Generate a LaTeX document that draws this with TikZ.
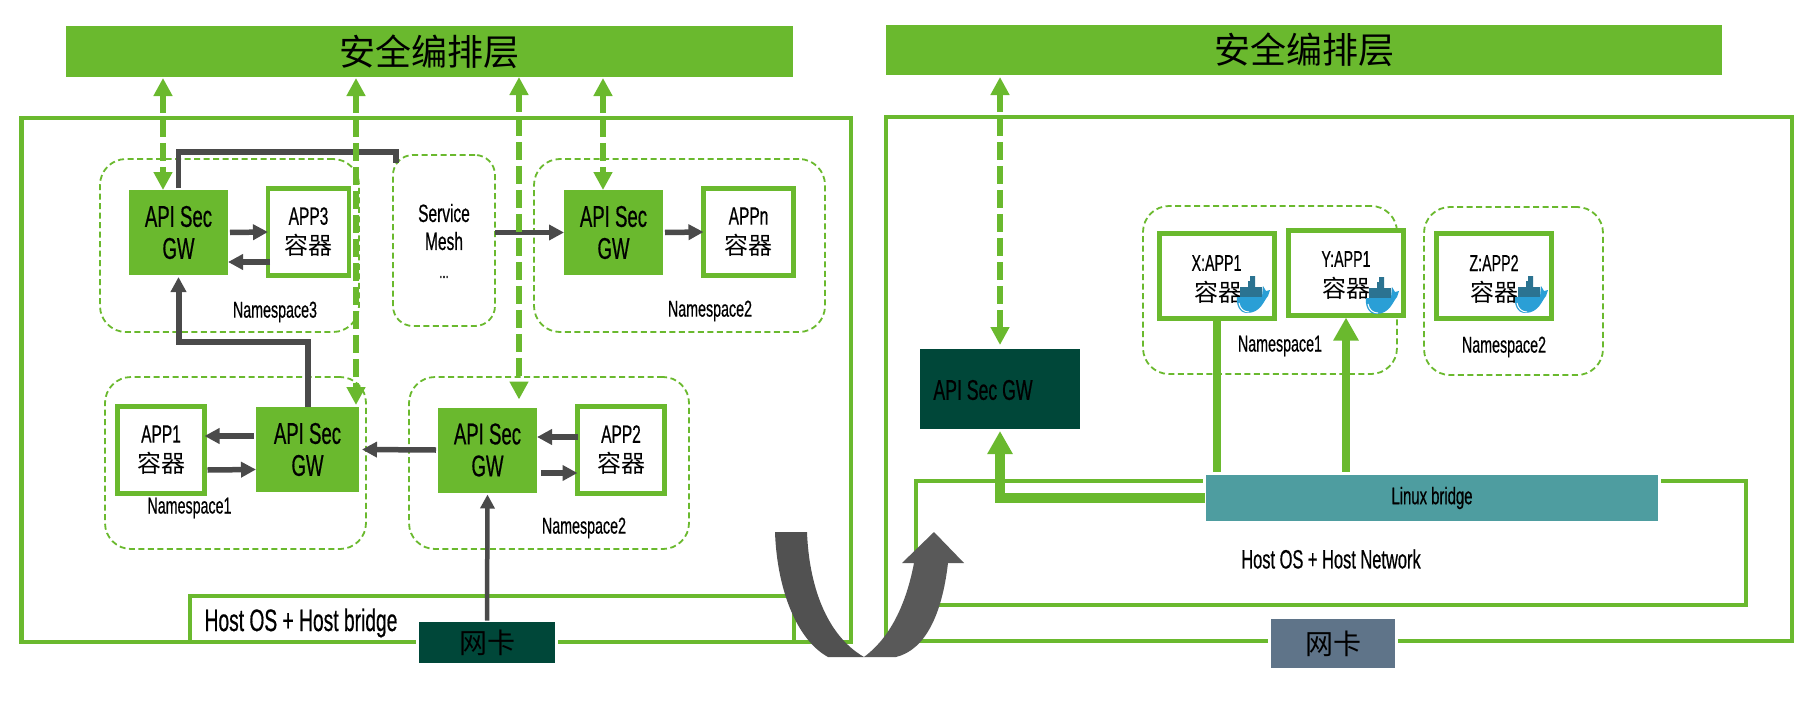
\documentclass[tikz,border=0pt]{standalone}
\usepackage{fontspec}
\setmainfont[FakeStretch=0.62,FakeBold=0.5]{Liberation Sans}
\newfontfamily\cjk{Noto Sans CJK SC}
\usetikzlibrary{arrows.meta}
\definecolor{gr}{HTML}{6AB92E}
\definecolor{dk}{HTML}{4A4A4A}
\definecolor{deep}{HTML}{004739}
\definecolor{teal1}{HTML}{4E9DA0}
\definecolor{slate}{HTML}{5F7489}
\definecolor{whaleb}{HTML}{2A9FD6}
\definecolor{whalec}{HTML}{2B7391}
\newcommand{\fs}[1]{\fontsize{#1}{#1}\selectfont}
\newcommand{\dockerwhale}[2]{%
  \begin{scope}[shift={(#1,#2)}]
    \fill[whalec] (3,11) rectangle (25,21) (11,5) rectangle (18,11) (13,0) rectangle (18,5);
    \fill[whaleb] (0,21) -- (25,21) -- (26,10) -- (29,15) -- (33,14) -- (31,20)
      .. controls (27,24) and (24,37) .. (10,37) .. controls (2,37) and (-1,28) .. (0,21) -- cycle;
    \draw[white,line width=1pt] (2,27) .. controls (3,33) and (7,36) .. (12,36);
  \end{scope}}
\tikzset{
  x=1pt,y=-1pt,
  bandbox/.style={fill=gr,inner sep=0,outer sep=0,font=\cjk\fs{36}},
  frame/.style={draw=gr,line width=4.5pt,line join=miter},
  nsbox/.style={draw=gr,line width=1.8pt,dash pattern=on 6pt off 3.5pt,rounded corners=26pt,inner sep=0,outer sep=0},
  gwbox/.style={fill=gr,inner sep=0,outer sep=0,align=center,font=\fs{30},minimum width=99pt,minimum height=85pt},
  appbox/.style={draw=gr,line width=4.5pt,fill=white,inner sep=0,outer sep=0,align=center,font=\fs{25}},
  nslabel/.style={inner sep=0,font=\fs{23}},
  flow/.style={draw=dk,line width=5.5pt,-{Triangle[length=15pt,width=15pt]}},
  link/.style={draw=dk,line width=5.5pt},
  orch/.style={draw=gr,line width=6pt,dash pattern=on 18pt off 6pt,{Triangle[length=18pt,width=18pt]}-{Triangle[length=18pt,width=18pt]}},
  solidgr/.style={draw=gr,line width=8pt,-{Triangle[length=23pt,width=24pt]}},
  nic/.style={inner sep=0,outer sep=0,draw=white,line width=3pt,font=\cjk\fs{28}},
}
\begin{document}
\begin{tikzpicture}
\useasboundingbox (0,0) rectangle (1817,717);

% frames
\node[bandbox,minimum width=727pt,minimum height=51pt] (bandL) at (429.5,51.5) {安全编排层};
\node[bandbox,minimum width=836pt,minimum height=50pt] (bandR) at (1304,50) {安全编排层};
\draw[frame] (21.5,118) rectangle (851,642);
\draw[frame] (886,117) rectangle (1792,641);
\draw[frame,line width=4pt] (190,642) -- (190,596) -- (794,596) -- (794,642);
\draw[frame,line width=4pt] (916,605) -- (916,481) -- (1746,481) -- (1746,605) -- cycle;

% namespaces
\node[nsbox,minimum width=259pt,minimum height=173pt] (ns3) at (229.5,245.5) {};
\node[nsbox,minimum width=291pt,minimum height=173pt] (ns2a) at (679.5,245.5) {};
\node[nsbox,minimum width=261pt,minimum height=172pt] (ns1) at (235.5,463) {};
\node[nsbox,minimum width=280pt,minimum height=172pt] (ns2b) at (549,463) {};
\node[nsbox,minimum width=254pt,minimum height=168pt] (ns1r) at (1270,290) {};
\node[nsbox,minimum width=179pt,minimum height=168pt] (ns2r) at (1513.5,291) {};
\node[nsbox,rounded corners=20pt,minimum width=102pt,minimum height=171pt] (mesh) at (444,240.5) {};
\node[inner sep=0,font=\fs{25}] (svc) at (444,213) {Service};
\node[inner sep=0,font=\fs{25}] (msh) at (444,241) {Mesh};
\node[inner sep=0,font=\fs{18}] (dots) at (444,277) {...};

\node[nslabel] (l3) at (275,312) {Namespace3};
\node[nslabel] (l2a) at (710,311) {Namespace2};
\node[nslabel] (l1) at (189.5,508) {Namespace1};
\node[nslabel] (l2b) at (584,528) {Namespace2};
\node[nslabel] (l1r) at (1280,346) {Namespace1};
\node[nslabel] (l2r) at (1504,347) {Namespace2};

% gateways and apps, left
\node[gwbox] (gwA) at (178.5,232.5) {API Sec\\[2pt]GW};
\node[gwbox] (gwD) at (613.5,232.5) {API Sec\\[2pt]GW};
\node[gwbox,minimum width=103pt] (gwB) at (307.5,449.5) {API Sec\\[2pt]GW};
\node[gwbox] (gwC) at (487.5,450) {API Sec\\[2pt]GW};
\node[appbox,minimum width=81pt,minimum height=87pt] (app3) at (308.5,232) {APP3\\[5pt]{\cjk\fs{24}容器}};
\node[appbox,minimum width=90pt,minimum height=87pt] (appn) at (748.5,232) {APPn\\[5pt]{\cjk\fs{24}容器}};
\node[appbox,minimum width=87pt,minimum height=87pt] (app1) at (161,450) {APP1\\[5pt]{\cjk\fs{24}容器}};
\node[appbox,minimum width=87pt,minimum height=87pt] (app2) at (621,450) {APP2\\[5pt]{\cjk\fs{24}容器}};

% right side
\node[fill=deep,inner sep=0,outer sep=0,minimum width=160pt,minimum height=80pt] (gwR) at (1000,389) {};
\node[inner sep=0,font=\fs{28.5}] (gwRt) at (983,390) {API Sec GW};
\node[appbox,minimum width=115pt,minimum height=85pt] (x1) at (1217,276) {};
\node[appbox,minimum width=115pt,minimum height=85pt] (y1) at (1346,273) {};
\node[appbox,minimum width=115pt,minimum height=85pt] (z2) at (1494,276) {};
\node[inner sep=0,font=\fs{23}] (xt) at (1216.5,263) {X:APP1};
\node[inner sep=0,font=\cjk\fs{24}] (xc) at (1218,292) {容器};
\node[inner sep=0,font=\fs{23}] (yt) at (1346,259) {Y:APP1};
\node[inner sep=0,font=\cjk\fs{24}] (yc) at (1346,288) {容器};
\node[inner sep=0,font=\fs{23}] (zt) at (1494,263) {Z:APP2};
\node[inner sep=0,font=\cjk\fs{24}] (zc) at (1494,292) {容器};
\dockerwhale{1237}{276}
\dockerwhale{1366}{277}
\dockerwhale{1515}{276}

\node[nic,fill=teal1,minimum width=455pt,minimum height=49pt,font=\fs{24}] (lb) at (1432,498) {\raisebox{-5pt}{Linux bridge}};
\node[inner sep=0,font=\fs{26.5}] (hnet) at (1331,559) {Host OS + Host Network};
\node[inner sep=0,font=\fs{31}] (hbr) at (301,623) {Host OS + Host bridge};
\node[nic,fill=deep,minimum width=139pt,minimum height=44pt] (nicL) at (487,642.5) {网卡};
\node[nic,fill=slate,minimum width=127pt,minimum height=52pt] (nicR) at (1333,643.5) {网卡};

% dark connectors
\draw[link] ([yshift=2pt]gwA.north) |- ([xshift=3pt,yshift=3pt]mesh.north west) -- ([xshift=3pt,yshift=-8pt]mesh.north west);
\draw[flow,line width=6pt] (gwB.north) -- ++(0,-65) -| ([yshift=-2pt]gwA.south);
\draw[flow] ([xshift=2pt]gwA.east) -- (app3.west);
\draw[flow] ([xshift=2pt,yshift=-30pt]app3.west) -- ([yshift=-29.5pt]gwA.east);
\draw[flow] (mesh.east) ++(0,-8) -- ([yshift=0pt]gwD.west);
\draw[flow] ([xshift=2pt]gwD.east) -- (appn.west);
\draw[flow] ([xshift=-2pt,yshift=13.5pt]gwB.west) -- ([yshift=14pt]app1.east);
\draw[flow] ([xshift=3pt,yshift=-20pt]app1.east) -- ([yshift=-20pt]gwB.west);
\draw[flow] ([xshift=-2pt]gwC.west) -- ([xshift=3pt]gwB.east);
\draw[flow] ([yshift=13pt]app2.west) -- ([yshift=13pt]gwC.east);
\draw[flow] ([xshift=4pt,yshift=-23pt]gwC.east) -- ([yshift=-23pt]app2.west);
\draw[flow,line width=4.5pt,-{Triangle[length=14pt,width=14pt]}] (nicL.north) -- ([yshift=-2pt]gwC.south);

% orchestration links
\draw[orch] ([xshift=-266.5pt,yshift=-1pt]bandL.south) -- ([xshift=-15.5pt]gwA.north);
\draw[orch] ([xshift=-73.5pt,yshift=-1pt]bandL.south) -- ([xshift=48.5pt,yshift=2pt]gwB.north);
\draw[orch] ([xshift=89.5pt]bandL.south) -- ([xshift=31.5pt,yshift=8pt]gwC.north);
\draw[orch] ([xshift=173.5pt,yshift=-1pt]bandL.south) -- ([xshift=-10.5pt]gwD.north);
\draw[orch] ([xshift=-304pt,yshift=-2pt]bandR.south) -- ([yshift=4pt]gwR.north);

% solid green links
\draw[solidgr,line width=9.5pt] (lb.west) -- (gwR.south |- lb.west) -- ([yshift=-2pt]gwR.south);
\draw[draw=gr,line width=8pt] ([yshift=-2pt]x1.south) -- ([yshift=2pt]x1.south |- lb.north);
\draw[solidgr] ([yshift=2pt]y1.south |- lb.north) -- ([yshift=-2pt]y1.south);

% big arrow
\fill[dk!96!white] (775,532) -- (807,532) .. controls (809,585) and (826,635) .. (864,657)
  -- (828,657) .. controls (797,640) and (777,590) .. (775,532) -- cycle;
\fill[black!65] (864,657) .. controls (887,640) and (905,610) .. (914,563) -- (902,563) -- (934,532)
  -- (964,563) -- (948,563) .. controls (942,615) and (925,650) .. (896,657) -- cycle;
\end{tikzpicture}
\end{document}
